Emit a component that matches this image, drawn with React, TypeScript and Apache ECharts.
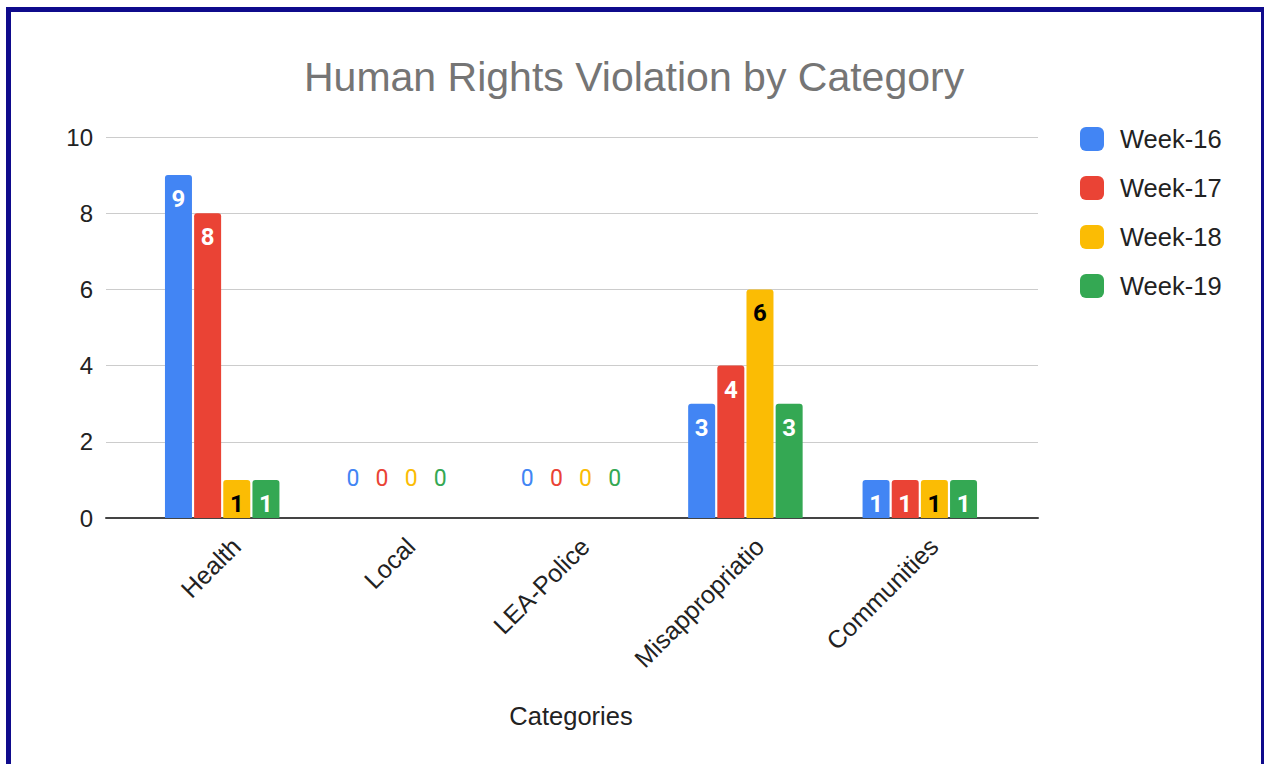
import React, { useEffect, useRef } from "react";
import * as echarts from "echarts";

const categories = ["Health", "Local", "LEA-Police", "Misappropriatio", "Communities"];
const seriesNames = ["Week-16", "Week-17", "Week-18", "Week-19"];
const week16 = [9, 0, 0, 3, 1];
const week17 = [8, 0, 0, 4, 1];
const week18 = [1, 0, 0, 6, 1];
const week19 = [1, 0, 0, 3, 1];
const seriesValues = [week16, week17, week18, week19];
const seriesColors = ["#4285F4", "#EA4335", "#FBBC04", "#34A853"];
const labelColors = ["#ffffff", "#ffffff", "#000000", "#ffffff"];
const yMin = 0;
const yMax = 10;
const yInterval = 2;

const FONT = 'Arial, "Liberation Sans", sans-serif';

export default function App() {
  const ref = useRef<HTMLDivElement>(null);

  useEffect(() => {
    document.body.style.margin = "0";
    if (!ref.current) return;
    const chart = echarts.init(ref.current, undefined, { renderer: "svg" });

    const series = seriesNames.map((name, i) => ({
      name,
      type: "bar",
      xAxisIndex: 1,
      yAxisIndex: 1,
      barWidth: 27,
      barGap: "8%",
      itemStyle: { color: seriesColors[i], borderRadius: [3, 3, 0, 0] },
      label: {
        show: true,
        position: "insideTop",
        distance: 12,
        color: labelColors[i],
        fontFamily: "Roboto",
        fontWeight: "bold",
        fontSize: 24,
      },
      data: seriesValues[i].map((v) =>
        v === 0
          ? {
              value: v,
              label: {
                position: "top",
                distance: 28,
                color: seriesColors[i],
                fontWeight: "normal",
                fontSize: 23,
              },
            }
          : v
      ),
    }));

    chart.setOption({
      animation: false,
      backgroundColor: "#ffffff",
      title: {
        text: "Human Rights Violation by Category",
        left: 299,
        top: 51,
        textStyle: { fontFamily: FONT, fontSize: 41, fontWeight: "normal", color: "#757575" },
      },
      legend: {
        orient: "vertical",
        left: 1080,
        top: 126,
        padding: 0,
        itemWidth: 24,
        itemHeight: 24,
        itemGap: 23,
        icon: "roundRect",
        data: seriesNames,
        textStyle: { fontFamily: FONT, fontSize: 25.5, color: "#222222", padding: [0, 0, 0, 11] },
      },
      grid: [
        { left: 106, right: 226, top: 137, bottom: 246 },
        { left: 135, right: 257, top: 137, bottom: 246 },
        { left: 149, right: 243, top: 137, bottom: 246 },
      ],
      xAxis: [
        {
          type: "value",
          gridIndex: 0,
          min: 0,
          max: 1,
          axisLine: { show: true, onZero: false, lineStyle: { color: "#444444", width: 2 } },
          axisTick: { show: false },
          axisLabel: { show: false },
          splitLine: { show: false },
        },
        {
          type: "category",
          gridIndex: 1,
          data: categories,
          axisLine: { show: false },
          axisTick: { show: false },
          axisLabel: { show: false },
          name: "Categories",
          nameLocation: "middle",
          nameGap: 185,
          nameTextStyle: { fontFamily: FONT, fontSize: 25.5, color: "#222222" },
        },
        {
          type: "category",
          gridIndex: 2,
          data: categories,
          axisLine: { show: false },
          axisTick: { show: false },
          axisLabel: {
            show: true,
            interval: 0,
            rotate: 45,
            margin: 24,
            fontFamily: FONT,
            fontSize: 25,
            color: "#222222",
          },
        },
      ],
      yAxis: [
        {
          type: "value",
          gridIndex: 0,
          min: yMin,
          max: yMax,
          interval: yInterval,
          axisLine: { show: false },
          axisTick: { show: false },
          axisLabel: { margin: 13, fontFamily: FONT, fontSize: 24, color: "#222222" },
          splitLine: { show: true, lineStyle: { color: "#cccccc", width: 1 } },
        },
        { type: "value", gridIndex: 1, min: yMin, max: yMax, show: false, splitLine: { show: false } },
        { type: "value", gridIndex: 2, min: yMin, max: yMax, show: false, splitLine: { show: false } },
      ],
      series,
    });

    return () => chart.dispose();
  }, []);

  return (
    <div style={{ position: "relative", width: 1264, height: 764, overflow: "hidden", background: "#fff" }}>
      <div ref={ref} style={{ position: "absolute", left: 0, top: 0, width: 1264, height: 764 }} />
      <div
        style={{
          position: "absolute",
          left: 6,
          top: 7,
          width: 1250,
          height: 800,
          borderLeft: "5px solid #0f0b8c",
          borderTop: "5px solid #0f0b8c",
          borderRight: "3px solid #0f0b8c",
          pointerEvents: "none",
        }}
      />
    </div>
  );
}
